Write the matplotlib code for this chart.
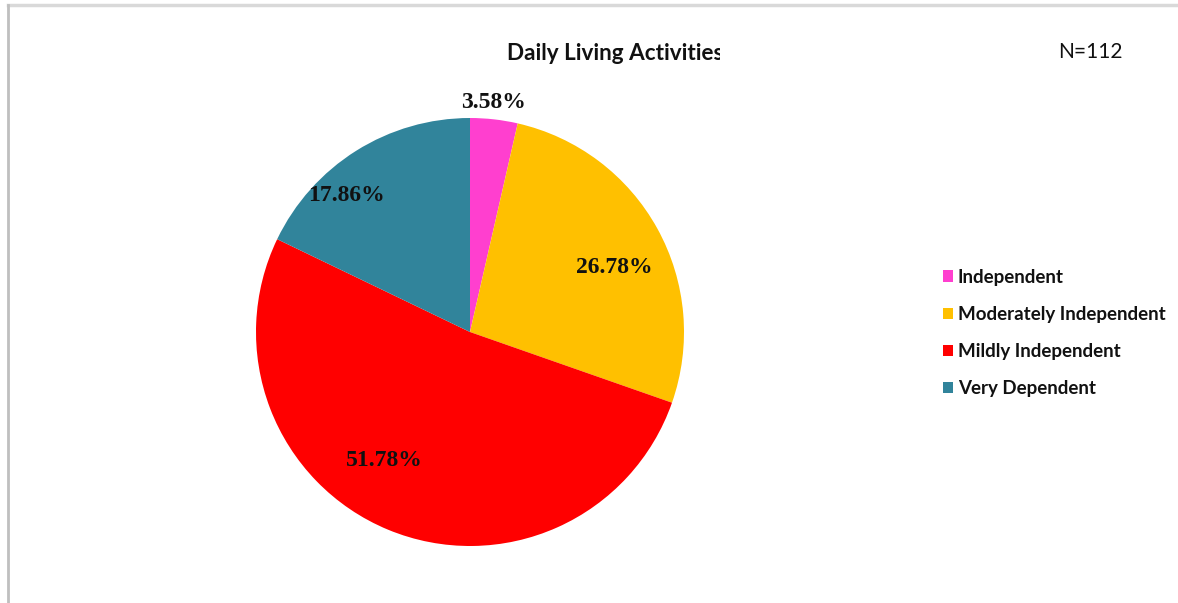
import matplotlib.pyplot as plt
import matplotlib.patches as mpatches
from matplotlib.lines import Line2D
from matplotlib.transforms import Bbox, TransformedBbox
import numpy as np

categories = ['Independent', 'Moderately Independent', 'Mildly Independent', 'Very Dependent']
values = [3.58, 26.78, 51.78, 17.86]
pct_labels = ['3.58%', '26.78%', '51.78%', '17.86%']
colors = ['#FF3FCF', '#FFC000', '#FF0000', '#31849B']

# label placement (radius in pie units, angle nudge in degrees), like Excel best fit
label_r = [1.08, 0.74, 0.72, 0.86]
label_dang = [0.7, -4.9, -11.2, 9.9]

fig = plt.figure(figsize=(11.78, 6.03), dpi=100)
W, H = 1178, 603

# pie axes: centre (470, 332) px, radius 214 px
cx, cy, r = 470, 332, 214
ax = fig.add_axes([(cx - r) / W, (H - cy - r) / H, 2 * r / W, 2 * r / H])
wedges, _ = ax.pie(values, colors=colors, startangle=90, counterclock=False,
                   radius=1.0, wedgeprops=dict(linewidth=0))
ax.set_xlim(-1, 1)
ax.set_ylim(-1, 1)
ax.set_aspect('equal')
ax.axis('off')

for w, lab, rr, da in zip(wedges, pct_labels, label_r, label_dang):
    ang = np.deg2rad((w.theta1 + w.theta2) / 2 + da)
    ax.text(rr * np.cos(ang), rr * np.sin(ang), lab, ha='center', va='center',
            fontsize=17, fontweight='bold', family='Liberation Serif', color='#111111',
            clip_on=False)

# title, cut off on the right as in the original
t = fig.text(507 / W, 1 - 53 / H, 'Daily Living Activities', ha='left', va='center',
             fontsize=16.2, fontweight='bold', family='Lato', color='#111111')
t.set_clip_box(TransformedBbox(Bbox([[0, 0], [720 / W, 1]]), fig.transFigure))
t.set_clip_on(True)

fig.text(1090 / W, 1 - 52 / H, 'N=112', ha='center', va='center',
         fontsize=15, family='Lato', color='#111111')

handles = [mpatches.Patch(facecolor=c, edgecolor='none') for c in colors]
leg = fig.legend(handles, categories, loc='center left', bbox_to_anchor=(926 / W, 1 - 333 / H),
                 frameon=False, handlelength=0.55, handleheight=0.55, handletextpad=0.25,
                 labelspacing=1.08, prop=dict(family='Lato', weight='bold', size=13.5))
for txt in leg.get_texts():
    txt.set_color('#111111')

# frame lines on top and left
fig.add_artist(Line2D([8 / W, 1], [1 - 5 / H, 1 - 5 / H], transform=fig.transFigure,
                      color='#D9D9D9', linewidth=2.5))
fig.add_artist(Line2D([8 / W, 8 / W], [0, 1 - 5 / H], transform=fig.transFigure,
                      color='#BFBFBF', linewidth=2))

fig.savefig('out.png', dpi=100, facecolor='white')
